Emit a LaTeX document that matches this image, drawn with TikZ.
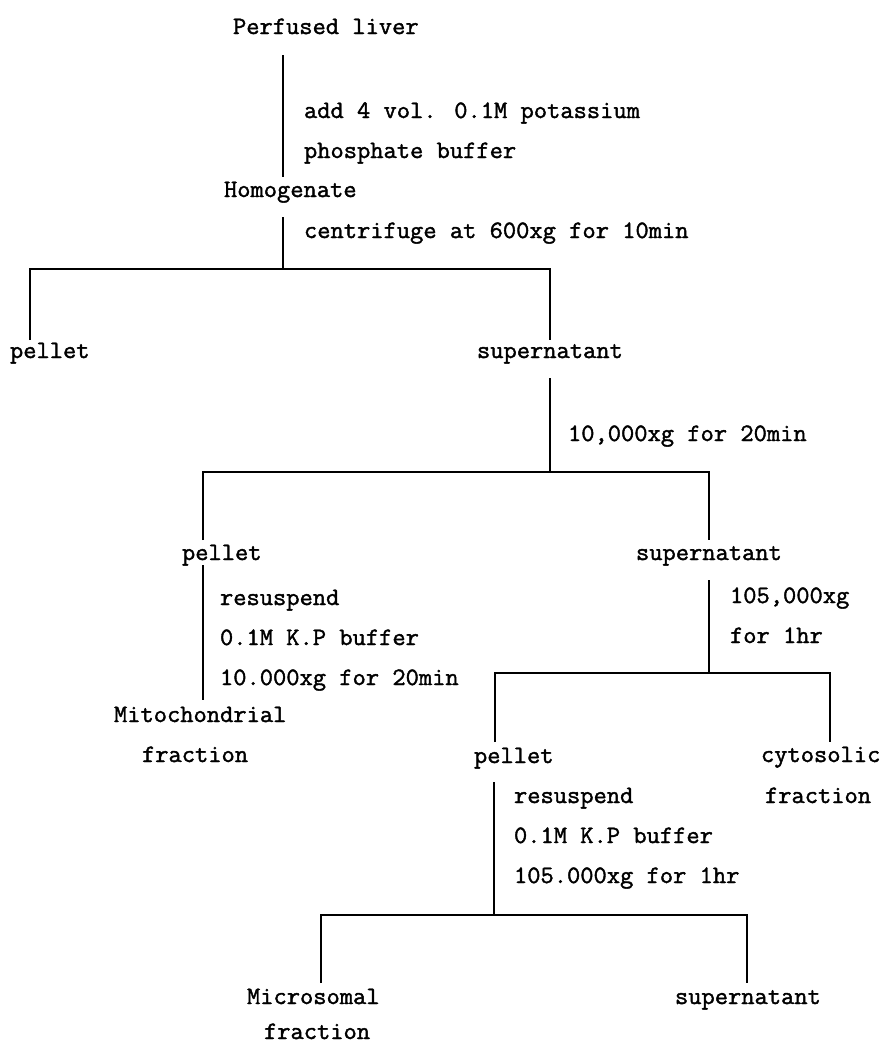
\documentclass[tikz,border=0pt]{standalone}
\usepackage{fontspec}
\newfontfamily\diagfont[FakeStretch=1.03,FakeBold=1.6]{Latin Modern Mono}
\begin{document}
\begin{tikzpicture}[x=1pt,y=-1pt,
  lbl/.style={anchor=base west,inner sep=0pt,outer sep=0pt,font=\diagfont\fontsize{25}{25}\selectfont},
  conn/.style={line width=1.3pt}]
\useasboundingbox (0,0) rectangle (886,1045);
% texts
\node[lbl] (liver) at (233,34) {Perfused liver};
\node[lbl] (add1) at (304,118) {add 4 vol. 0.1M potassium};
\node[lbl] (add2) at (304,158) {phosphate buffer};
\node[lbl] (homog) at (224,197) {Homogenate};
\node[lbl] (cent1) at (304,238) {centrifuge at 600xg for 10min};
\node[lbl] (pelA) at (10,358) {pellet};
\node[lbl] (supA) at (477,358) {supernatant};
\node[lbl] (cent2) at (568,441) {10,000xg for 20min};
\node[lbl] (pelB) at (182,560) {pellet};
\node[lbl] (supB) at (636,560) {supernatant};
\node[lbl] (resB1) at (220,605) {resuspend};
\node[lbl] (resB2) at (220,645) {0.1M K.P buffer};
\node[lbl] (resB3) at (220,685) {10.000xg for 20min};
\node[lbl] (mito1) at (114,722) {Mitochondrial};
\node[lbl] (mito2) at (142,762) {fraction};
\node[lbl] (cent3a) at (730,603) {105,000xg};
\node[lbl] (cent3b) at (730,643) {for 1hr};
\node[lbl] (pelC) at (474,763) {pellet};
\node[lbl] (cyto1) at (761,762) {cytosolic};
\node[lbl] (cyto2) at (765,803) {fraction};
\node[lbl] (resC1) at (514,803) {resuspend};
\node[lbl] (resC2) at (514,843) {0.1M K.P buffer};
\node[lbl] (resC3) at (514,883) {105.000xg for 1hr};
\node[lbl] (micro1) at (247,1004) {Microsomal};
\node[lbl] (micro2) at (264,1039) {fraction};
\node[lbl] (supD) at (675,1004) {supernatant};
% junction points
\coordinate (l0t) at (283,55);   \coordinate (l0b) at (283,177);
\coordinate (l1t) at (283,217);  \coordinate (j1) at (283,269);
\coordinate (j1l) at (30,269);   \coordinate (j1r) at (550,269);
\coordinate (d1l) at (30,340);   \coordinate (d1r) at (550,340);
\coordinate (l2t) at (550,378);  \coordinate (j2) at (550,472);
\coordinate (j2l) at (203,472);  \coordinate (j2r) at (709,472);
\coordinate (d2l) at (203,540);  \coordinate (d2r) at (709,540);
\coordinate (l3at) at (203,565); \coordinate (l3ab) at (203,700);
\coordinate (l3bt) at (709,580); \coordinate (j3) at (709,673);
\coordinate (j3l) at (495,673);  \coordinate (j3r) at (830,673);
\coordinate (d3l) at (495,742);  \coordinate (d3r) at (830,742);
\coordinate (l4t) at (494,782);  \coordinate (j4) at (494,915);
\coordinate (j4l) at (321,915);  \coordinate (j4r) at (747,915);
\coordinate (d4l) at (321,983);  \coordinate (d4r) at (747,983);
% connectors
\draw[conn] (l0t) -- (l0b);
\draw[conn] (l1t) -- (j1);
\draw[conn] (d1l) -- (j1l) -- (j1r) -- (d1r);
\draw[conn] (l2t) -- (j2);
\draw[conn] (d2l) -- (j2l) -- (j2r) -- (d2r);
\draw[conn] (l3at) -- (l3ab);
\draw[conn] (l3bt) -- (j3);
\draw[conn] (d3l) -- (j3l) -- (j3r) -- (d3r);
\draw[conn] (l4t) -- (j4);
\draw[conn] (d4l) -- (j4l) -- (j4r) -- (d4r);
\end{tikzpicture}
\end{document}
